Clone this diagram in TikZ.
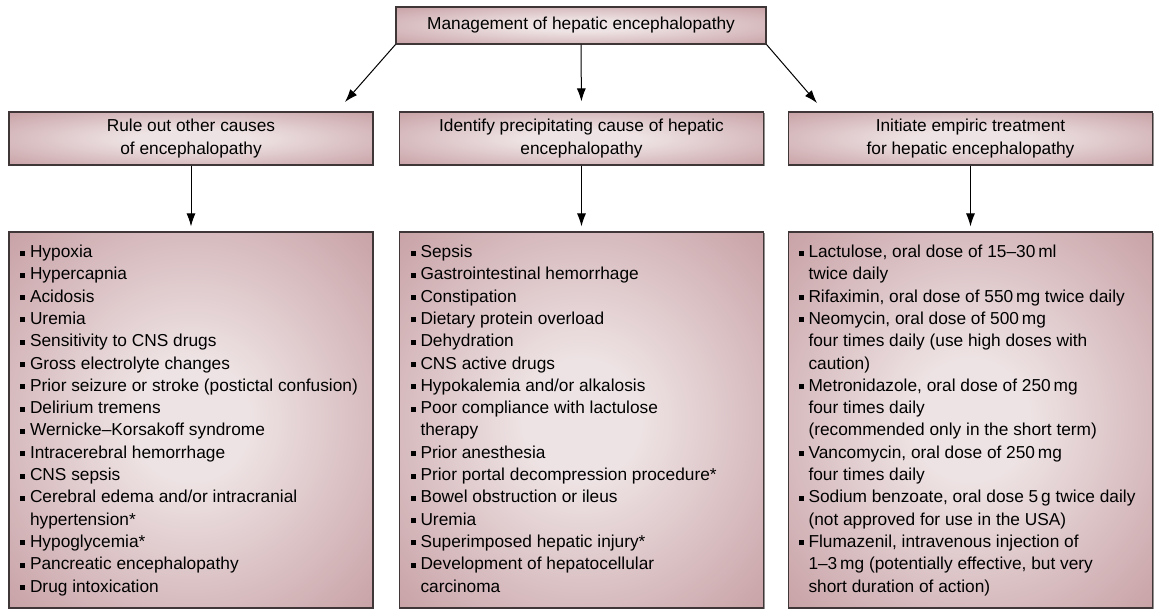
\documentclass[tikz,border=0pt]{standalone}
\usepackage{fontspec}
\setmainfont{Liberation Sans}
\usetikzlibrary{arrows.meta,shadows}
\definecolor{BoxClr}{RGB}{194,151,156}
\definecolor{GlowClr}{RGB}{238,227,228}
\definecolor{LineClr}{RGB}{62,54,55}
\pgfdeclareradialshading{boxglow}{\pgfpoint{0bp}{0bp}}{color(0bp)=(GlowClr); color(8bp)=(GlowClr); color(40bp)=(BoxClr); color(50bp)=(BoxClr)}
\newcommand{\bul}[1]{\par\noindent\hangindent=10pt\hangafter=1\makebox[10pt][l]{\rule[2pt]{5pt}{5pt}}#1}

\begin{document}
\begin{tikzpicture}[x=1pt,y=-1pt,
  font=\fontsize{17.3}{22.3}\selectfont,
  box/.style={draw=LineClr,line width=1.1pt,shading=boxglow,
    drop shadow={shadow xshift=1.2pt,shadow yshift=-1.2pt,fill=LineClr,opacity=.55},
    inner sep=0pt,minimum width=364pt,align=center},
  headbox/.style={box,minimum height=53pt},
  listbox/.style={box},
  link/.style={draw=black,line width=1pt,-{Latex[length=13pt,width=9pt]}}]
\useasboundingbox (0,0) rectangle (1157,609);

\node[box,minimum width=370pt,minimum height=37pt] (Mgmt) at (581,25.5) {Management of hepatic encephalopathy};

\node[headbox] (Rule) at (191,138.5) {Rule out other causes\\of encephalopathy};
\node[headbox] (Cause) at (581.5,138.5) {Identify precipitating cause of hepatic\\encephalopathy};
\node[headbox] (Treat) at (970.5,138.5) {Initiate empiric treatment\\for hepatic encephalopathy};

\node[listbox] (RuleList) at (191,420) {\parbox[t][376pt][t]{342pt}{\raggedright\vspace*{13pt}%
\bul{Hypoxia}
\bul{Hypercapnia}
\bul{Acidosis}
\bul{Uremia}
\bul{Sensitivity to CNS drugs}
\bul{Gross electrolyte changes}
\bul{Prior seizure or stroke (postictal confusion)}
\bul{Delirium tremens}
\bul{Wernicke–Korsakoff syndrome}
\bul{Intracerebral hemorrhage}
\bul{CNS sepsis}
\bul{Cerebral edema and/or intracranial\newline hypertension*}
\bul{Hypoglycemia*}
\bul{Pancreatic encephalopathy}
\bul{Drug intoxication}\par}};

\node[listbox] (CauseList) at (581.5,420) {\parbox[t][376pt][t]{342pt}{\raggedright\vspace*{13pt}%
\bul{Sepsis}
\bul{Gastrointestinal hemorrhage}
\bul{Constipation}
\bul{Dietary protein overload}
\bul{Dehydration}
\bul{CNS active drugs}
\bul{Hypokalemia and/or alkalosis}
\bul{Poor compliance with lactulose\newline therapy}
\bul{Prior anesthesia}
\bul{Prior portal decompression procedure*}
\bul{Bowel obstruction or ileus}
\bul{Uremia}
\bul{Superimposed hepatic injury*}
\bul{Development of hepatocellular\newline carcinoma}\par}};

\node[listbox] (TreatList) at (970.5,420) {\parbox[t][376pt][t]{344pt}{\raggedright\vspace*{13pt}%
\bul{Lactulose, oral dose of 15–30\,ml\newline twice daily}
\bul{Rifaximin, oral dose of 550\,mg twice daily}
\bul{Neomycin, oral dose of 500\,mg\newline four times daily (use high doses with\newline caution)}
\bul{Metronidazole, oral dose of 250\,mg\newline four times daily\newline (recommended only in the short term)}
\bul{Vancomycin, oral dose of 250\,mg\newline four times daily}
\bul{Sodium benzoate, oral dose 5\,g twice daily\newline (not approved for use in the USA)}
\bul{Flumazenil, intravenous injection of\newline 1–3\,mg (potentially effective, but very\newline short duration of action)}\par}};

\coordinate (RuleTip) at (345,102);
\coordinate (TreatTip) at (817,103);

\draw[link] (Mgmt.south west) -- (RuleTip);
\draw[link,shorten >=10pt] (Mgmt.south) -- (Cause.north);
\draw[link] (Mgmt.south east) -- (TreatTip);

\draw[link,shorten >=5pt] (Rule.south) -- (RuleList.north);
\draw[link,shorten >=5pt] (Cause.south) -- (CauseList.north);
\draw[link,shorten >=5pt] (Treat.south) -- (TreatList.north);

\end{tikzpicture}
\end{document}
